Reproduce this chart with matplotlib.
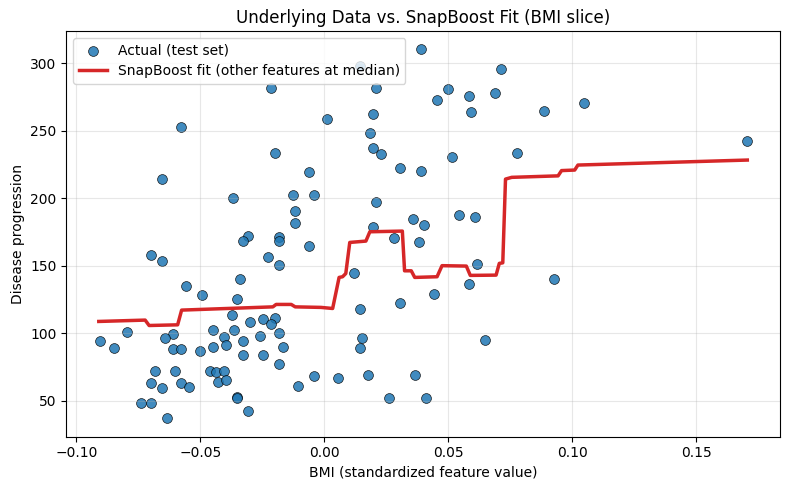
import numpy as np
import matplotlib
matplotlib.use("Agg")
import matplotlib.pyplot as plt

# test-set points (BMI, disease progression)
bmi = [-0.0656, -0.0367, -0.0308, -0.0330, -0.0700, -0.0656, -0.0560, -0.0494, -0.0342, -0.0354,
       -0.0374, -0.0299, -0.0246, -0.0795, -0.0904, -0.0849, -0.0609, -0.0643, -0.0611, -0.0579,
       -0.0502, -0.0450, -0.0406, -0.0399, -0.0450, -0.0366, -0.0330, -0.0330, -0.0258, -0.0685,
       -0.0603, -0.0700, -0.0656, -0.0579, -0.0548, -0.0463, -0.0438, -0.0404, -0.0431, -0.0398,
       -0.0740, -0.0700, -0.0635, -0.0354, -0.0353, -0.0308, -0.0201, -0.0061, -0.0125, -0.0041,
       -0.0117, -0.0117, -0.0183, -0.0183, -0.0061, -0.0226, -0.0183, -0.0201, -0.0215, -0.0183,
       -0.0169, -0.0246, -0.0183, -0.0105, -0.0041, 0.0053, 0.0388, 0.0142, 0.0209, 0.0497,
       0.0453, 0.0584, 0.0592, 0.0011, 0.0196, 0.0184, 0.0196, 0.0228, 0.0516, 0.0304,
       0.0388, 0.0209, 0.0356, 0.0400, 0.0541, 0.0605, 0.0196, 0.0280, 0.0380, 0.0121,
       0.0617, 0.0584, 0.0443, 0.0304, 0.0142, 0.0152, 0.0142, 0.0176, 0.0367, 0.0259,
       0.0411, 0.0712, 0.0689, 0.0886, 0.1047, 0.1705, 0.0778, 0.0926, 0.0649, -0.0215,
       -0.0580]
progression = [214.1, 200.0, 172.1, 168.4, 157.8, 153.6, 135.0, 128.4, 140.2, 125.4,
               113.6, 108.4, 110.4, 101.0, 94.3, 89.6, 99.5, 96.3, 88.6, 88.2,
               86.9, 102.2, 97.3, 91.6, 89.9, 102.2, 94.3, 83.9, 98.2, 72.1,
               72.1, 63.2, 59.5, 63.2, 60.2, 72.1, 71.6, 72.1, 63.9, 65.4,
               48.4, 48.4, 37.3, 52.6, 52.1, 42.4, 233.3, 219.3, 202.4, 202.4,
               190.6, 181.7, 171.1, 168.4, 164.4, 156.3, 150.4, 111.6, 106.9, 100.7,
               89.9, 83.9, 77.3, 61.0, 68.4, 66.7, 310.4, 298.2, 281.5, 280.7,
               272.6, 275.8, 264.1, 258.5, 262.4, 248.1, 237.3, 232.6, 230.4, 222.4,
               220.0, 197.3, 184.4, 180.0, 187.4, 186.2, 179.0, 170.4, 167.6, 144.7,
               151.1, 136.3, 129.1, 122.2, 117.8, 96.3, 89.6, 68.9, 69.6, 52.1,
               52.1, 295.6, 278.0, 264.4, 270.6, 242.4, 233.3, 140.0, 94.8, 281.5,
               252.6]

# model curve (other features at median), vertices
fit_bmi = [-0.0910, -0.0723, -0.0707, -0.0592, -0.0576, -0.0208, -0.0195, -0.0134, -0.0118, -0.0014,
           0.0033, 0.0059, 0.0073, 0.0086, 0.0102, 0.0167, 0.0183, 0.0314, 0.0323, 0.0350,
           0.0364, 0.0454, 0.0474, 0.0572, 0.0588, 0.0692, 0.0705, 0.0719, 0.0730, 0.0755,
           0.0942, 0.0956, 0.1009, 0.1022, 0.1705]
fit_pred = [108.9, 109.9, 105.9, 106.4, 117.3, 119.7, 121.5, 121.5, 119.7, 119.3,
            118.5, 141.5, 142.0, 144.4, 167.4, 168.4, 175.3, 175.8, 146.4, 146.4,
            141.5, 142.0, 150.2, 149.9, 143.0, 143.2, 151.9, 152.3, 214.3, 215.6,
            216.7, 220.6, 221.0, 224.7, 228.4]

fig, ax = plt.subplots(figsize=(7.9, 4.9), dpi=100)
fig.subplots_adjust(left=0.084, right=0.987, top=0.937, bottom=0.109)

ax.scatter(bmi, progression, s=50, color='tab:blue', alpha=0.85,
           edgecolor='k', linewidth=0.5, label="Actual (test set)")
ax.plot(fit_bmi, fit_pred, color='tab:red', linewidth=2.5,
        label="SnapBoost fit (other features at median)")

ax.set_title("Underlying Data vs. SnapBoost Fit (BMI slice)")
ax.set_xlabel("BMI (standardized feature value)")
ax.set_ylabel("Disease progression")
ax.grid(True, alpha=0.3)
ax.legend(loc='upper left')

fig.savefig("out.png", dpi=100)
